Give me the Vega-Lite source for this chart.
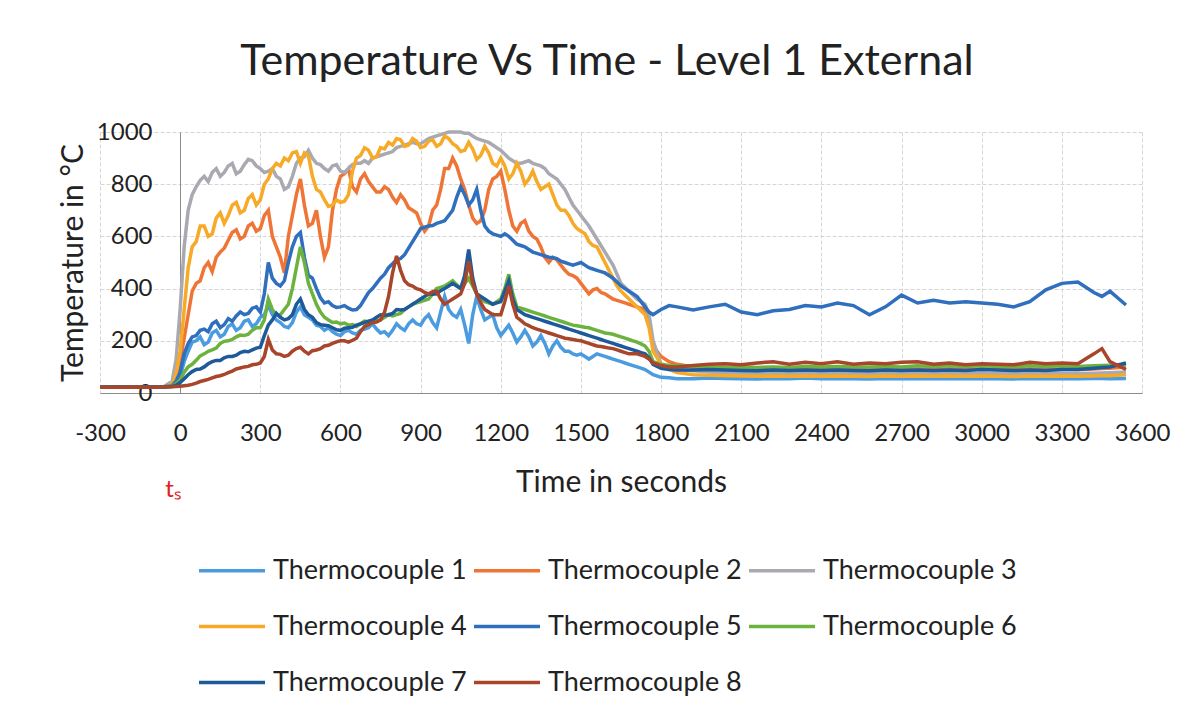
{
  "$schema": "https://vega.github.io/schema/vega-lite/v6.json",
  "width": 1042,
  "height": 261,
  "autosize": {"type": "none"},
  "padding": {"left": 100, "top": 132, "right": 61, "bottom": 326},
  "background": "white",
  "title": {"text": "Temperature Vs Time - Level 1 External", "fontSize": 43, "font": "Lato", "fontWeight": "normal", "color": "#222222", "offset": 36, "anchor": "middle", "dx": -14},
  "config": {"view": {"stroke": null}, "font": "Lato"},
  "layer": [
    {
      "data": {"values": [
        {"t":-300,"T1":22,"T2":22,"T3":22,"T4":22,"T5":22,"T6":22,"T7":22,"T8":22},
        {"t":-240,"T1":23,"T2":22,"T3":23,"T4":22,"T5":23,"T6":22,"T7":23,"T8":22},
        {"t":-180,"T1":22,"T2":23,"T3":22,"T4":23,"T5":22,"T6":23,"T7":22,"T8":23},
        {"t":-120,"T1":23,"T2":22,"T3":23,"T4":22,"T5":23,"T6":22,"T7":23,"T8":22},
        {"t":-60,"T1":24,"T2":24,"T3":25,"T4":24,"T5":24,"T6":24,"T7":23,"T8":23},
        {"t":-30,"T1":27,"T2":30,"T3":45,"T4":32,"T5":28,"T6":26,"T7":25,"T8":24},
        {"t":-15,"T1":38,"T2":55,"T3":130,"T4":75,"T5":45,"T6":35,"T7":30,"T8":25},
        {"t":0,"T1":65,"T2":120,"T3":320,"T4":160,"T5":80,"T6":50,"T7":40,"T8":26},
        {"t":15,"T1":120,"T2":210,"T3":560,"T4":320,"T5":150,"T6":80,"T7":55,"T8":28},
        {"t":30,"T1":160,"T2":300,"T3":700,"T4":480,"T5":190,"T6":100,"T7":70,"T8":30},
        {"t":60,"T1":200,"T2":420,"T3":790,"T4":580,"T5":220,"T6":125,"T7":90,"T8":38},
        {"t":90,"T1":185,"T2":480,"T3":830,"T4":640,"T5":245,"T6":150,"T7":100,"T8":48},
        {"t":120,"T1":230,"T2":465,"T3":845,"T4":610,"T5":265,"T6":165,"T7":120,"T8":58},
        {"t":150,"T1":215,"T2":540,"T3":830,"T4":690,"T5":250,"T6":190,"T7":125,"T8":66},
        {"t":180,"T1":255,"T2":585,"T3":870,"T4":680,"T5":285,"T6":200,"T7":140,"T8":78},
        {"t":210,"T1":240,"T2":625,"T3":840,"T4":730,"T5":295,"T6":215,"T7":145,"T8":92},
        {"t":240,"T1":275,"T2":600,"T3":875,"T4":700,"T5":300,"T6":220,"T7":160,"T8":100},
        {"t":270,"T1":255,"T2":650,"T3":890,"T4":760,"T5":325,"T6":240,"T7":165,"T8":108},
        {"t":300,"T1":290,"T2":630,"T3":860,"T4":740,"T5":310,"T6":250,"T7":175,"T8":115},
        {"t":330,"T1":335,"T2":700,"T3":850,"T4":820,"T5":500,"T6":360,"T7":260,"T8":205},
        {"t":360,"T1":280,"T2":560,"T3":830,"T4":880,"T5":420,"T6":300,"T7":305,"T8":150},
        {"t":390,"T1":255,"T2":460,"T3":780,"T4":900,"T5":430,"T6":320,"T7":280,"T8":140},
        {"t":420,"T1":270,"T2":680,"T3":830,"T4":920,"T5":560,"T6":400,"T7":300,"T8":160},
        {"t":450,"T1":330,"T2":820,"T3":900,"T4":880,"T5":615,"T6":560,"T7":360,"T8":175},
        {"t":480,"T1":290,"T2":640,"T3":930,"T4":910,"T5":450,"T6":420,"T7":300,"T8":150},
        {"t":510,"T1":260,"T2":700,"T3":880,"T4":780,"T5":400,"T6":340,"T7":270,"T8":165},
        {"t":540,"T1":240,"T2":520,"T3":860,"T4":740,"T5":345,"T6":290,"T7":260,"T8":180},
        {"t":570,"T1":235,"T2":700,"T3":870,"T4":720,"T5":335,"T6":270,"T7":250,"T8":190},
        {"t":600,"T1":220,"T2":830,"T3":850,"T4":730,"T5":330,"T6":265,"T7":240,"T8":200},
        {"t":630,"T1":240,"T2":860,"T3":860,"T4":760,"T5":325,"T6":260,"T7":250,"T8":195},
        {"t":660,"T1":225,"T2":770,"T3":880,"T4":900,"T5":320,"T6":255,"T7":260,"T8":210},
        {"t":690,"T1":245,"T2":840,"T3":890,"T4":940,"T5":360,"T6":275,"T7":270,"T8":255},
        {"t":720,"T1":265,"T2":790,"T3":900,"T4":900,"T5":400,"T6":270,"T7":280,"T8":270},
        {"t":750,"T1":230,"T2":770,"T3":910,"T4":940,"T5":440,"T6":280,"T7":300,"T8":280},
        {"t":780,"T1":220,"T2":780,"T3":920,"T4":960,"T5":480,"T6":300,"T7":300,"T8":370},
        {"t":810,"T1":265,"T2":730,"T3":940,"T4":975,"T5":510,"T6":300,"T7":320,"T8":525},
        {"t":840,"T1":240,"T2":740,"T3":950,"T4":945,"T5":530,"T6":320,"T7":320,"T8":430},
        {"t":870,"T1":280,"T2":700,"T3":960,"T4":975,"T5":580,"T6":340,"T7":340,"T8":410},
        {"t":900,"T1":260,"T2":650,"T3":955,"T4":940,"T5":630,"T6":350,"T7":360,"T8":395},
        {"t":930,"T1":300,"T2":640,"T3":975,"T4":965,"T5":640,"T6":360,"T7":380,"T8":380},
        {"t":960,"T1":250,"T2":720,"T3":985,"T4":945,"T5":650,"T6":400,"T7":380,"T8":390},
        {"t":990,"T1":370,"T2":860,"T3":995,"T4":985,"T5":660,"T6":410,"T7":400,"T8":340},
        {"t":1020,"T1":300,"T2":900,"T3":1000,"T4":955,"T5":700,"T6":430,"T7":420,"T8":360},
        {"t":1050,"T1":320,"T2":820,"T3":1000,"T4":925,"T5":790,"T6":400,"T7":400,"T8":380},
        {"t":1080,"T1":190,"T2":720,"T3":995,"T4":960,"T5":720,"T6":440,"T7":550,"T8":505},
        {"t":1110,"T1":370,"T2":650,"T3":975,"T4":895,"T5":780,"T6":380,"T7":380,"T8":380},
        {"t":1140,"T1":280,"T2":700,"T3":965,"T4":945,"T5":640,"T6":350,"T7":360,"T8":320},
        {"t":1170,"T1":300,"T2":820,"T3":950,"T4":880,"T5":610,"T6":340,"T7":340,"T8":300},
        {"t":1200,"T1":220,"T2":850,"T3":930,"T4":900,"T5":600,"T6":360,"T7":350,"T8":300},
        {"t":1230,"T1":260,"T2":700,"T3":900,"T4":820,"T5":600,"T6":455,"T7":430,"T8":410},
        {"t":1260,"T1":195,"T2":620,"T3":880,"T4":880,"T5":570,"T6":330,"T7":320,"T8":290},
        {"t":1290,"T1":240,"T2":660,"T3":885,"T4":800,"T5":560,"T6":320,"T7":300,"T8":265},
        {"t":1320,"T1":180,"T2":600,"T3":880,"T4":850,"T5":540,"T6":310,"T7":290,"T8":250},
        {"t":1350,"T1":220,"T2":560,"T3":870,"T4":780,"T5":530,"T6":300,"T7":280,"T8":240},
        {"t":1380,"T1":150,"T2":500,"T3":840,"T4":800,"T5":520,"T6":290,"T7":270,"T8":230},
        {"t":1410,"T1":200,"T2":510,"T3":820,"T4":720,"T5":515,"T6":280,"T7":260,"T8":220},
        {"t":1440,"T1":160,"T2":470,"T3":780,"T4":700,"T5":500,"T6":270,"T7":250,"T8":210},
        {"t":1470,"T1":150,"T2":450,"T3":720,"T4":650,"T5":490,"T6":260,"T7":240,"T8":205},
        {"t":1500,"T1":150,"T2":420,"T3":680,"T4":620,"T5":500,"T6":255,"T7":230,"T8":200},
        {"t":1530,"T1":130,"T2":380,"T3":640,"T4":580,"T5":480,"T6":250,"T7":220,"T8":190},
        {"t":1560,"T1":150,"T2":400,"T3":590,"T4":560,"T5":470,"T6":240,"T7":210,"T8":180},
        {"t":1590,"T1":140,"T2":380,"T3":540,"T4":500,"T5":460,"T6":230,"T7":200,"T8":175},
        {"t":1620,"T1":130,"T2":360,"T3":490,"T4":440,"T5":440,"T6":225,"T7":190,"T8":170},
        {"t":1650,"T1":120,"T2":350,"T3":420,"T4":390,"T5":410,"T6":215,"T7":180,"T8":160},
        {"t":1680,"T1":110,"T2":340,"T3":390,"T4":360,"T5":390,"T6":205,"T7":170,"T8":150},
        {"t":1710,"T1":100,"T2":330,"T3":360,"T4":330,"T5":370,"T6":195,"T7":160,"T8":150},
        {"t":1740,"T1":90,"T2":320,"T3":340,"T4":300,"T5":330,"T6":180,"T7":150,"T8":140},
        {"t":1770,"T1":70,"T2":180,"T3":200,"T4":160,"T5":300,"T6":120,"T7":110,"T8":115},
        {"t":1800,"T1":60,"T2":140,"T3":110,"T4":110,"T5":320,"T6":110,"T7":95,"T8":105},
        {"t":1830,"T1":58,"T2":120,"T3":95,"T4":90,"T5":335,"T6":105,"T7":90,"T8":100},
        {"t":1860,"T1":55,"T2":110,"T3":90,"T4":78,"T5":330,"T6":105,"T7":88,"T8":100},
        {"t":1920,"T1":55,"T2":100,"T3":85,"T4":70,"T5":318,"T6":100,"T7":88,"T8":105},
        {"t":1980,"T1":57,"T2":95,"T3":80,"T4":68,"T5":330,"T6":100,"T7":90,"T8":110},
        {"t":2040,"T1":56,"T2":92,"T3":78,"T4":66,"T5":340,"T6":98,"T7":88,"T8":112},
        {"t":2100,"T1":55,"T2":90,"T3":76,"T4":65,"T5":310,"T6":100,"T7":86,"T8":108},
        {"t":2160,"T1":54,"T2":90,"T3":75,"T4":64,"T5":300,"T6":98,"T7":85,"T8":115},
        {"t":2220,"T1":56,"T2":92,"T3":76,"T4":65,"T5":315,"T6":100,"T7":88,"T8":120},
        {"t":2280,"T1":55,"T2":90,"T3":75,"T4":64,"T5":320,"T6":98,"T7":86,"T8":110},
        {"t":2340,"T1":57,"T2":92,"T3":76,"T4":65,"T5":335,"T6":102,"T7":88,"T8":118},
        {"t":2400,"T1":55,"T2":90,"T3":75,"T4":64,"T5":330,"T6":100,"T7":86,"T8":112},
        {"t":2460,"T1":56,"T2":92,"T3":76,"T4":65,"T5":345,"T6":102,"T7":88,"T8":120},
        {"t":2520,"T1":55,"T2":90,"T3":75,"T4":64,"T5":335,"T6":100,"T7":86,"T8":110},
        {"t":2580,"T1":54,"T2":90,"T3":74,"T4":63,"T5":300,"T6":100,"T7":85,"T8":115},
        {"t":2640,"T1":56,"T2":92,"T3":76,"T4":65,"T5":330,"T6":102,"T7":88,"T8":112},
        {"t":2700,"T1":55,"T2":90,"T3":75,"T4":64,"T5":375,"T6":100,"T7":86,"T8":118},
        {"t":2760,"T1":56,"T2":92,"T3":76,"T4":65,"T5":345,"T6":104,"T7":88,"T8":120},
        {"t":2820,"T1":55,"T2":90,"T3":75,"T4":64,"T5":355,"T6":102,"T7":86,"T8":110},
        {"t":2880,"T1":56,"T2":92,"T3":76,"T4":65,"T5":345,"T6":104,"T7":88,"T8":115},
        {"t":2940,"T1":55,"T2":90,"T3":75,"T4":64,"T5":350,"T6":102,"T7":86,"T8":108},
        {"t":3000,"T1":56,"T2":92,"T3":76,"T4":65,"T5":345,"T6":104,"T7":90,"T8":112},
        {"t":3060,"T1":55,"T2":90,"T3":75,"T4":64,"T5":340,"T6":102,"T7":88,"T8":110},
        {"t":3120,"T1":54,"T2":90,"T3":74,"T4":63,"T5":330,"T6":100,"T7":86,"T8":108},
        {"t":3180,"T1":56,"T2":92,"T3":76,"T4":65,"T5":350,"T6":104,"T7":88,"T8":118},
        {"t":3240,"T1":55,"T2":90,"T3":75,"T4":64,"T5":395,"T6":102,"T7":86,"T8":112},
        {"t":3300,"T1":56,"T2":92,"T3":76,"T4":65,"T5":420,"T6":104,"T7":90,"T8":115},
        {"t":3360,"T1":55,"T2":90,"T3":75,"T4":64,"T5":425,"T6":102,"T7":90,"T8":112},
        {"t":3420,"T1":56,"T2":92,"T3":76,"T4":65,"T5":385,"T6":104,"T7":95,"T8":150},
        {"t":3450,"T1":56,"T2":94,"T3":77,"T4":66,"T5":370,"T6":105,"T7":98,"T8":170},
        {"t":3480,"T1":55,"T2":95,"T3":78,"T4":66,"T5":390,"T6":106,"T7":100,"T8":120},
        {"t":3540,"T1":56,"T2":100,"T3":80,"T4":70,"T5":337,"T6":108,"T7":115,"T8":90},
        {"t":45,"T1":195,"T2":390,"T3":760,"T4":560,"T5":215,"T6":110,"T7":82,"T8":33},
        {"t":75,"T1":215,"T2":430,"T3":815,"T4":640,"T5":240,"T6":142,"T7":92,"T8":44},
        {"t":105,"T1":195,"T2":500,"T3":810,"T4":600,"T5":235,"T6":160,"T7":112,"T8":52},
        {"t":135,"T1":240,"T2":520,"T3":860,"T4":670,"T5":275,"T6":172,"T7":125,"T8":63},
        {"t":165,"T1":225,"T2":555,"T3":845,"T4":650,"T5":262,"T6":198,"T7":135,"T8":71},
        {"t":195,"T1":265,"T2":615,"T3":880,"T4":720,"T5":275,"T6":205,"T7":140,"T8":84},
        {"t":225,"T1":250,"T2":590,"T3":850,"T4":690,"T5":310,"T6":222,"T7":155,"T8":96},
        {"t":255,"T1":280,"T2":640,"T3":895,"T4":745,"T5":305,"T6":225,"T7":158,"T8":102},
        {"t":285,"T1":265,"T2":620,"T3":870,"T4":720,"T5":330,"T6":250,"T7":172,"T8":110},
        {"t":315,"T1":300,"T2":680,"T3":845,"T4":800,"T5":380,"T6":280,"T7":220,"T8":140},
        {"t":345,"T1":300,"T2":600,"T3":860,"T4":860,"T5":440,"T6":320,"T7":280,"T8":165},
        {"t":375,"T1":270,"T2":520,"T3":820,"T4":870,"T5":410,"T6":300,"T7":290,"T8":148},
        {"t":405,"T1":250,"T2":600,"T3":790,"T4":890,"T5":500,"T6":340,"T7":285,"T8":145},
        {"t":435,"T1":310,"T2":760,"T3":880,"T4":925,"T5":600,"T6":480,"T7":340,"T8":170},
        {"t":465,"T1":300,"T2":720,"T3":905,"T4":920,"T5":520,"T6":500,"T7":320,"T8":160},
        {"t":495,"T1":280,"T2":650,"T3":900,"T4":830,"T5":440,"T6":380,"T7":290,"T8":162},
        {"t":525,"T1":255,"T2":600,"T3":875,"T4":770,"T5":365,"T6":310,"T7":262,"T8":170},
        {"t":555,"T1":250,"T2":560,"T3":850,"T4":715,"T5":350,"T6":280,"T7":258,"T8":183},
        {"t":585,"T1":225,"T2":780,"T3":875,"T4":740,"T5":328,"T6":272,"T7":242,"T8":196},
        {"t":615,"T1":235,"T2":840,"T3":845,"T4":735,"T5":335,"T6":268,"T7":248,"T8":200},
        {"t":645,"T1":230,"T2":790,"T3":875,"T4":850,"T5":318,"T6":262,"T7":252,"T8":202},
        {"t":675,"T1":240,"T2":820,"T3":880,"T4":910,"T5":335,"T6":265,"T7":265,"T8":235},
        {"t":705,"T1":250,"T2":810,"T3":880,"T4":930,"T5":385,"T6":272,"T7":275,"T8":262},
        {"t":735,"T1":245,"T2":770,"T3":905,"T4":905,"T5":420,"T6":278,"T7":290,"T8":272},
        {"t":765,"T1":235,"T2":790,"T3":915,"T4":935,"T5":455,"T6":290,"T7":298,"T8":310},
        {"t":795,"T1":240,"T2":750,"T3":925,"T4":950,"T5":495,"T6":295,"T7":305,"T8":460},
        {"t":825,"T1":250,"T2":760,"T3":945,"T4":970,"T5":515,"T6":305,"T7":318,"T8":470},
        {"t":855,"T1":265,"T2":710,"T3":955,"T4":950,"T5":555,"T6":330,"T7":330,"T8":415},
        {"t":885,"T1":265,"T2":690,"T3":955,"T4":965,"T5":605,"T6":345,"T7":350,"T8":400},
        {"t":915,"T1":285,"T2":620,"T3":965,"T4":945,"T5":635,"T6":355,"T7":370,"T8":385},
        {"t":945,"T1":270,"T2":700,"T3":980,"T4":970,"T5":642,"T6":380,"T7":378,"T8":388},
        {"t":975,"T1":310,"T2":780,"T3":990,"T4":955,"T5":655,"T6":405,"T7":392,"T8":360},
        {"t":1005,"T1":320,"T2":860,"T3":1000,"T4":975,"T5":680,"T6":420,"T7":410,"T8":350},
        {"t":1035,"T1":290,"T2":870,"T3":1000,"T4":945,"T5":750,"T6":415,"T7":410,"T8":370},
        {"t":1065,"T1":260,"T2":780,"T3":995,"T4":930,"T5":760,"T6":420,"T7":450,"T8":420},
        {"t":1095,"T1":300,"T2":670,"T3":985,"T4":935,"T5":740,"T6":410,"T7":440,"T8":420},
        {"t":1125,"T1":320,"T2":660,"T3":970,"T4":910,"T5":700,"T6":360,"T7":370,"T8":345},
        {"t":1155,"T1":290,"T2":780,"T3":960,"T4":920,"T5":620,"T6":345,"T7":350,"T8":310},
        {"t":1185,"T1":250,"T2":830,"T3":940,"T4":870,"T5":605,"T6":350,"T7":345,"T8":300},
        {"t":1215,"T1":240,"T2":780,"T3":915,"T4":870,"T5":610,"T6":400,"T7":390,"T8":350},
        {"t":1245,"T1":230,"T2":640,"T3":890,"T4":840,"T5":585,"T6":380,"T7":360,"T8":340},
        {"t":1275,"T1":215,"T2":650,"T3":880,"T4":850,"T5":565,"T6":325,"T7":310,"T8":278},
        {"t":1305,"T1":215,"T2":620,"T3":890,"T4":820,"T5":550,"T6":315,"T7":295,"T8":258},
        {"t":1335,"T1":195,"T2":590,"T3":875,"T4":810,"T5":535,"T6":305,"T7":285,"T8":245},
        {"t":1365,"T1":190,"T2":520,"T3":860,"T4":790,"T5":525,"T6":295,"T7":275,"T8":235},
        {"t":1395,"T1":180,"T2":520,"T3":830,"T4":760,"T5":518,"T6":285,"T7":265,"T8":225},
        {"t":1425,"T1":175,"T2":490,"T3":800,"T4":700,"T5":505,"T6":275,"T7":255,"T8":215},
        {"t":1455,"T1":160,"T2":455,"T3":750,"T4":680,"T5":495,"T6":265,"T7":245,"T8":208},
        {"t":1485,"T1":145,"T2":440,"T3":700,"T4":630,"T5":495,"T6":258,"T7":235,"T8":202},
        {"t":1515,"T1":140,"T2":400,"T3":660,"T4":610,"T5":490,"T6":252,"T7":225,"T8":195},
        {"t":1545,"T1":140,"T2":395,"T3":615,"T4":565,"T5":475,"T6":245,"T7":215,"T8":185},
        {"t":1575,"T1":145,"T2":385,"T3":565,"T4":530,"T5":465,"T6":235,"T7":205,"T8":178},
        {"t":1605,"T1":135,"T2":370,"T3":515,"T4":470,"T5":450,"T6":228,"T7":195,"T8":172},
        {"t":1635,"T1":125,"T2":355,"T3":455,"T4":410,"T5":425,"T6":220,"T7":185,"T8":165},
        {"t":1665,"T1":115,"T2":345,"T3":405,"T4":375,"T5":400,"T6":210,"T7":175,"T8":155},
        {"t":1695,"T1":105,"T2":335,"T3":375,"T4":345,"T5":380,"T6":200,"T7":165,"T8":150},
        {"t":1725,"T1":95,"T2":325,"T3":350,"T4":315,"T5":350,"T6":188,"T7":155,"T8":145},
        {"t":1755,"T1":80,"T2":280,"T3":300,"T4":250,"T5":310,"T6":160,"T7":135,"T8":130}
      ]},
      "transform": [{"fold": ["T1","T2","T3","T4","T5","T6","T7","T8"], "as": ["series","temp"]}],
      "mark": {"type": "line", "strokeWidth": 3.5},
      "encoding": {
        "x": {"field": "t", "type": "quantitative",
          "scale": {"domain": [-300, 3600], "nice": false, "zero": false},
          "axis": {"title": "Time in seconds", "values": [-300,0,300,600,900,1200,1500,1800,2100,2400,2700,3000,3300,3600],
            "labelExpr": "'' + datum.value", "labelOverlap": false, "labelFlush": false,
            "labelFontSize": 24, "labelColor": "#222222", "labelPadding": 28, "ticks": false,
            "domainColor": "#8c8c8c", "gridColor": "#d6d6d6", "gridDash": [4,2],
            "titleFontSize": 30, "titleFontWeight": "normal", "titleColor": "#222222", "titlePadding": 22}},
        "y": {"field": "temp", "type": "quantitative",
          "scale": {"domain": [0, 1000], "nice": false},
          "axis": {"title": "Temperature in °C", "values": [0,200,400,600,800,1000], "offset": -80,
            "labelExpr": "'' + datum.value", "labelOverlap": false, "labelFlush": false,
            "labelFontSize": 24, "labelColor": "#222222", "labelPadding": 28, "ticks": false,
            "domainColor": "#8c8c8c", "gridColor": "#d6d6d6", "gridDash": [4,2],
            "titleFontSize": 30, "titleFontWeight": "normal", "titleColor": "#222222", "titlePadding": 8}},
        "color": {"field": "series", "type": "nominal",
          "scale": {"domain": ["T1","T2","T3","T4","T5","T6","T7","T8"],
            "range": ["#4a9be0","#ef7536","#a9a9b2","#f7a928","#2f6fbd","#6bb23f","#1e5a9a","#a8452a"]},
          "legend": {"orient": "none", "legendX": 130, "legendY": 420, "columns": 3, "direction": "horizontal", "title": null,
            "symbolType": "M-3,0H1", "symbolSize": 1089, "symbolStrokeWidth": 3.5,
            "labelFontSize": 27, "labelFont": "Lato", "labelColor": "#222222", "labelOffset": 6,
            "rowPadding": 24, "columnPadding": 0, "labelLimit": 300, "padding": 0,
            "labelExpr": "'Thermocouple ' + slice(datum.label, 1)"}}
      }
    },
    {
      "data": {"values": [{"label": "tₛ"}]},
      "mark": {"type": "text", "fontSize": 24, "font": "Lato", "color": "#e02020"},
      "encoding": {
        "x": {"datum": -27, "type": "quantitative"},
        "y": {"datum": -372, "type": "quantitative"},
        "text": {"field": "label"}
      }
    }
  ]
}
